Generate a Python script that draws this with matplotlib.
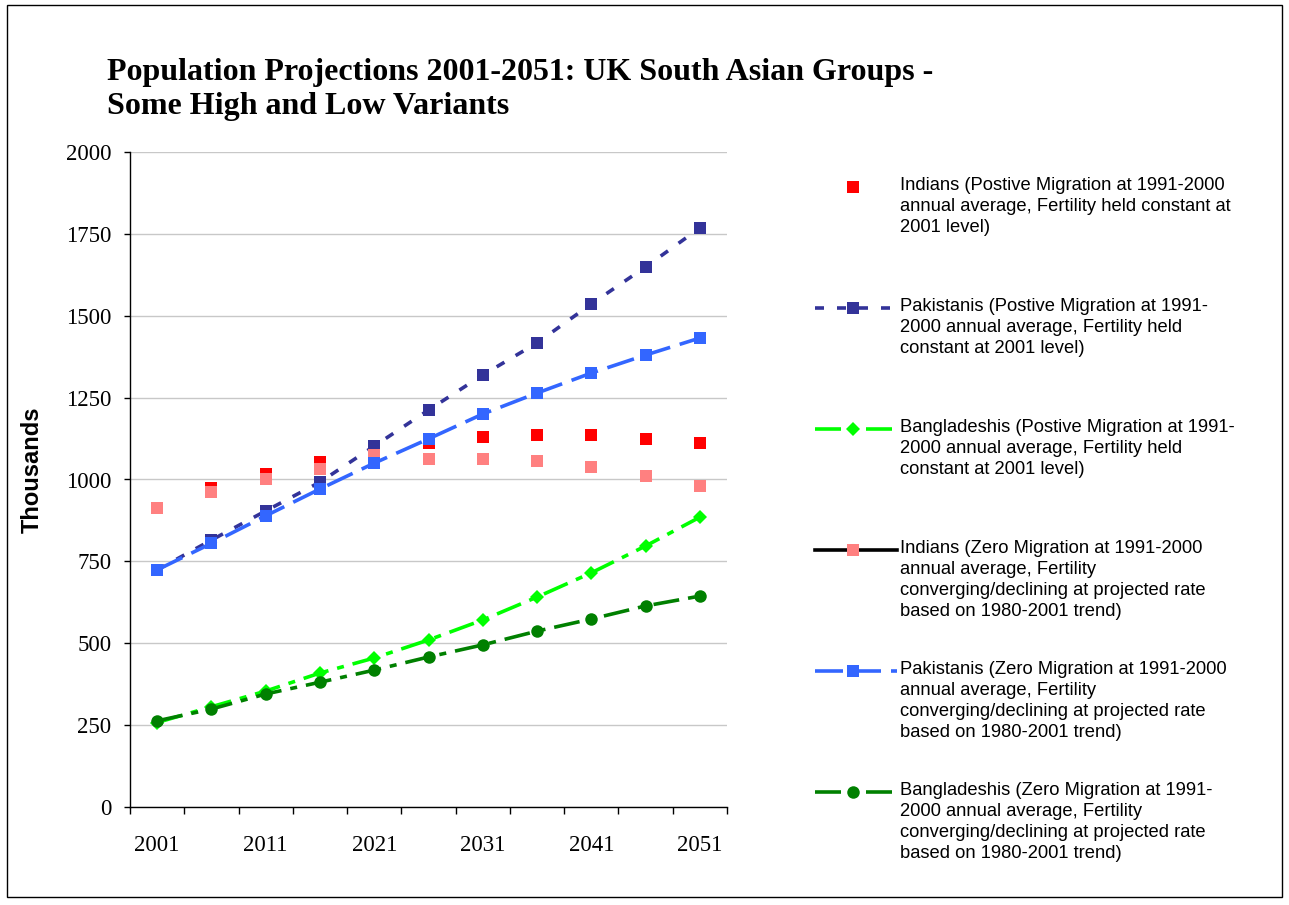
import matplotlib
matplotlib.use("Agg")
import matplotlib.pyplot as plt
from matplotlib.lines import Line2D
from matplotlib.patches import Rectangle

years = ['2001', '2006', '2011', '2016', '2021', '2026', '2031', '2036', '2041', '2046', '2051']
indians_pos = [913, 975, 1017, 1053, 1084, 1111, 1130, 1136, 1136, 1124, 1111]
pakistanis_pos = [724, 815, 904, 992, 1102, 1212, 1319, 1417, 1536, 1649, 1768]
bangladeshis_pos = [258, 306, 354, 409, 455, 510, 571, 641, 715, 797, 885]
indians_zero = [913, 963, 1001, 1032, 1075, 1063, 1063, 1056, 1038, 1011, 980]
pakistanis_zero = [724, 805, 889, 971, 1050, 1124, 1200, 1264, 1325, 1380, 1432]
bangladeshis_zero = [263, 299, 345, 381, 418, 458, 495, 537, 574, 614, 644]

labels = [
    "Indians (Postive Migration at 1991-2000\nannual average, Fertility held constant at\n2001 level)",
    "Pakistanis (Postive Migration at 1991-\n2000 annual average, Fertility held\nconstant at 2001 level)",
    "Bangladeshis (Postive Migration at 1991-\n2000 annual average, Fertility held\nconstant at 2001 level)",
    "Indians (Zero Migration at 1991-2000\nannual average, Fertility\nconverging/declining at projected rate\nbased on 1980-2001 trend)",
    "Pakistanis (Zero Migration at 1991-2000\nannual average, Fertility\nconverging/declining at projected rate\nbased on 1980-2001 trend)",
    "Bangladeshis (Zero Migration at 1991-\n2000 annual average, Fertility\nconverging/declining at projected rate\nbased on 1980-2001 trend)",
]

plt.rcParams['lines.scale_dashes'] = False
W, H = 1289, 905
fig = plt.figure(figsize=(W / 100, H / 100), dpi=100)
px = 72 / 100  # points per pixel

ax = fig.add_axes([130 / W, 1 - 807 / H, (727 - 130) / W, (807 - 152) / H])
x = list(range(len(years)))
lw = 3.6 * px

short_dash = (0, (9 * px, 13 * px))
long_dash = (0, (28 * px, 10 * px))
long_dash_dot = (0, (26 * px, 9 * px, 7 * px, 9 * px))

styles = [
    dict(color='#FF0000', linestyle='none', marker='s', markersize=12.5 * px),
    dict(color='#333399', linestyle=short_dash, lw=lw, marker='s', markersize=12.5 * px),
    dict(color='#00FF00', linestyle=long_dash_dot, lw=lw, marker='D', markersize=10.5 * px),
    dict(color='#FF8080', linestyle='none', marker='s', markersize=12.5 * px),
    dict(color='#3366FF', linestyle=long_dash, lw=lw, marker='s', markersize=12.5 * px),
    dict(color='#008000', linestyle=long_dash_dot, lw=lw, marker='o', markersize=12.5 * px),
]
series = [indians_pos, pakistanis_pos, bangladeshis_pos, indians_zero, pakistanis_zero, bangladeshis_zero]

for s, st in zip(series, styles):
    ax.plot(x, s, markeredgewidth=0, clip_on=False, **st)

ax.set_xlim(-0.5, len(years) - 0.5)
ax.set_ylim(0, 2000)
ax.set_yticks(range(0, 2001, 250))
ax.yaxis.grid(True, color='#C8C8C8', lw=1.0)
ax.set_axisbelow(True)
for sp in ['top', 'right']:
    ax.spines[sp].set_visible(False)
for sp in ['left', 'bottom']:
    ax.spines[sp].set_linewidth(1.0)
ax.set_xticks(x[::2])
ax.set_xticklabels(years[::2])
ax.set_xticks([i - 0.5 for i in range(len(years) + 1)], minor=True)
ax.tick_params(axis='x', which='major', length=0, pad=20)
ax.tick_params(axis='x', which='minor', length=7 * px, direction='out', width=1)
ax.tick_params(axis='y', length=6 * px, width=1, pad=9)
for lab in ax.get_xticklabels() + ax.get_yticklabels():
    lab.set_fontfamily('Liberation Serif')
    lab.set_fontsize(16.5)

fig.text(32 / W, 1 - 470 / H, 'Thousands', rotation=90, ha='center', va='center',
         fontfamily='Liberation Sans', fontweight='bold', fontsize=17)

fig.text(107 / W, 1 - 58 / H,
         'Population Projections 2001-2051: UK South Asian Groups -\nSome High and Low Variants',
         ha='left', va='top', fontfamily='Liberation Serif', fontweight='bold', fontsize=23,
         linespacing=1.22)

# legend (manual)
leg_y = [187, 308, 429, 550, 671, 792]
for i, (yy, st, lab) in enumerate(zip(leg_y, styles, labels)):
    yf = 1 - yy / H
    if st.get('linestyle') != 'none' or i == 3:
        lcol = 'black' if i == 3 else st['color']
        lstyle = '-' if i == 3 else st['linestyle']
        fig.add_artist(Line2D([815 / W, 897 / W], [yf, yf], color=lcol, linestyle=lstyle,
                              lw=lw, transform=fig.transFigure))
    fig.add_artist(Line2D([853 / W], [yf], color=st['color'], linestyle='none',
                          marker=st['marker'], markersize=st['markersize'], markeredgewidth=0,
                          transform=fig.transFigure))
    fig.text(900 / W, 1 - (yy - 10) / H, lab, ha='left', va='top',
             fontfamily='Liberation Sans', fontsize=13.2, linespacing=1.32)

fig.add_artist(Rectangle((7 / W, 1 - 897 / H), (1282 - 7) / W, (897 - 5) / H,
                         transform=fig.transFigure, fill=False, edgecolor='black', lw=1.0))

fig.savefig('out.png', dpi=100)
